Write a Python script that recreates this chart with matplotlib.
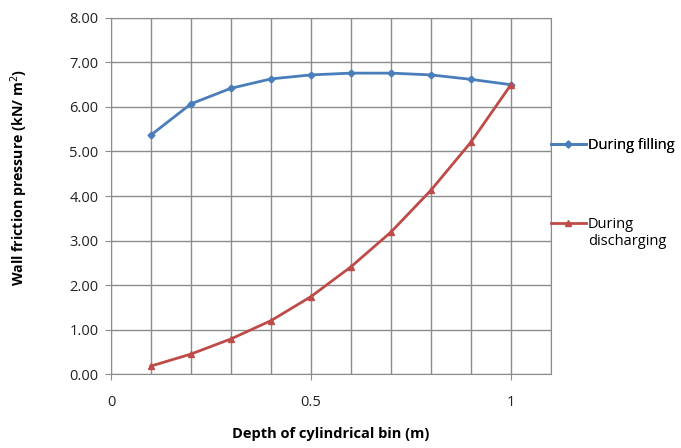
import numpy as np
import matplotlib
matplotlib.use("Agg")
import matplotlib.pyplot as plt
from matplotlib.ticker import MultipleLocator, FixedLocator

depth = [0.1, 0.2, 0.3, 0.4, 0.5, 0.6, 0.7, 0.8, 0.9, 1.0]
filling = [5.37, 6.07, 6.42, 6.63, 6.72, 6.76, 6.76, 6.72, 6.62, 6.50]
discharging = [0.18, 0.45, 0.79, 1.20, 1.74, 2.41, 3.19, 4.13, 5.21, 6.50]

plt.rcParams['font.family'] = ['Open Sans', 'DejaVu Sans']

fig = plt.figure(figsize=(6.81, 4.48), dpi=100)
ax = fig.add_axes([0.163, 0.165, 0.646, 0.795])

blue = '#4A7EBB'
red = '#BE4B48'
l1, = ax.plot(depth, filling, color=blue, lw=2, marker='D', ms=3.5,
              label='During filling')
l2, = ax.plot(depth, discharging, color=red, lw=2, marker='^', ms=4,
              label='During')

ax.set_xlim(0, 1.1)
ax.set_ylim(0, 8)
ax.xaxis.set_major_locator(FixedLocator([0, 0.5, 1]))
ax.xaxis.set_minor_locator(MultipleLocator(0.1))
ax.yaxis.set_major_locator(MultipleLocator(1))
ax.set_xticklabels(['0', '0.5', '1'])
ax.yaxis.set_major_formatter(matplotlib.ticker.FormatStrFormatter('%.2f'))
ax.grid(True, which='both', axis='x', color='#8c8c8c', lw=1)
ax.grid(True, which='major', axis='y', color='#8c8c8c', lw=1)
ax.set_axisbelow(True)
ax.tick_params(axis='both', which='major', length=4, color='#8c8c8c',
               labelsize=10.5, labelcolor='#222222', pad=5)
ax.tick_params(axis='x', which='major', pad=11)
ax.tick_params(axis='x', which='minor', length=0)
for s in ax.spines.values():
    s.set_color('#8c8c8c')

ax.set_xlabel('Depth of cylindrical bin (m)', fontsize=10.5, fontweight='bold',
              labelpad=12)
ax.set_ylabel('Wall friction pressure (kN/ m$^2$)', fontsize=10.2,
              fontweight='bold')
ax.yaxis.set_label_coords(-0.184, 0.553)

leg1 = fig.legend(handles=[l1], loc='center left', bbox_to_anchor=(0.809, 0.676),
                  frameon=False, fontsize=10.5, handlelength=2.4, handletextpad=0.15,
                  borderpad=0, borderaxespad=0)
fig.add_artist(leg1)
leg2 = fig.legend(handles=[l2], loc='center left', bbox_to_anchor=(0.809, 0.498),
                  frameon=False, fontsize=10.5, handlelength=2.4, handletextpad=0.15,
                  borderpad=0, borderaxespad=0)
# second line of the discharging label sits under the first, left aligned
fig.canvas.draw()
t = leg2.get_texts()[0]
bb = t.get_window_extent().transformed(fig.transFigure.inverted())
fig.text(bb.x0, bb.y0 - 0.004, 'discharging', fontsize=10.5, va='top', ha='left')

fig.savefig('out.png', dpi=100)
